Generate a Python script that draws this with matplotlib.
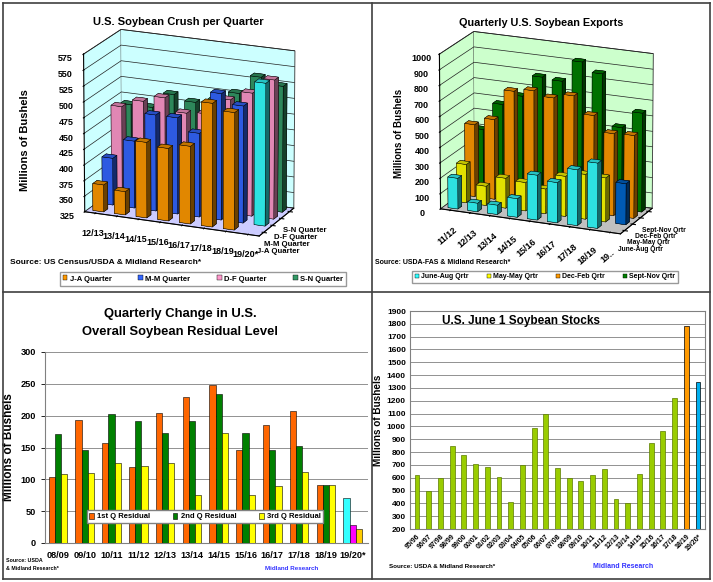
import numpy as np
import matplotlib
matplotlib.use("Agg")
import matplotlib.pyplot as plt
from matplotlib.patches import Patch
from matplotlib.lines import Line2D

plt.rcParams['font.family'] = ['Liberation Sans', 'DejaVu Sans']
plt.rcParams['font.weight'] = 'bold'

# ---------------- data ----------------
crush_years = ["12/13", "13/14", "14/15", "15/16", "16/17", "17/18", "18/19", "19/20*"]
crush_series = ["J-A Quarter", "M-M Quarter", "D-F Quarter", "S-N Quarter"]
crush_ja = [368, 362, 445, 440, 448, 520, 510, np.nan]
crush_mm = [400, 432, 478, 478, 458, 525, 510, 550]
crush_df = [472, 485, 495, 475, 478, 505, 520, 545]
crush_sn = [465, 465, 490, 482, 488, 505, 535, 525]
crush_ticks = [325, 350, 375, 400, 425, 450, 475, 500, 525, 550, 575]

exp_years = ["11/12", "12/13", "13/14", "14/15", "15/16", "16/17", "17/18", "18/19", "19.."]
exp_series = ["June-Aug Qrtr", "May-May Qrtr", "Dec-Feb Qrtr", "Sept-Nov Qrtr"]
exp_ja = [200, 55, 60, 120, 290, 260, 360, 420, np.nan]
exp_mm = [250, 125, 195, 185, 160, 260, 290, 285, 265]
exp_df = [470, 520, 720, 740, 710, 740, 630, 530, 535]
exp_sn = [400, 580, 650, 790, 780, 920, 860, 530, 640]
exp_ticks = list(range(0, 1001, 100))

res_years = ["08/09", "09/10", "10/11", "11/12", "12/13", "13/14", "14/15",
             "15/16", "16/17", "17/18", "18/19", "19/20*"]
res_q1 = [103, 193, 157, 119, 204, 229, 248, 146, 186, 207, 91, 71]
res_q2 = [171, 146, 202, 191, 173, 192, 234, 173, 146, 152, 91, 28]
res_q3 = [108, 110, 125, 121, 126, 75, 173, 75, 90, 111, 91, 22]
res_labels = ["1st Q Residual", "2nd Q Residual", "3rd Q Residual"]

stk_years = ["95/96", "96/97", "97/98", "98/99", "99/00", "00/01", "01/02", "02/03",
             "03/04", "04/05", "05/06", "06/07", "07/08", "08/09", "09/10", "10/11",
             "11/12", "12/13", "13/14", "14/15", "15/16", "16/17", "17/18", "18/19", "19/20*"]
stk_vals = [620, 500, 600, 850, 775, 708, 685, 605, 410, 700, 990, 1095, 675, 596,
            571, 619, 667, 435, 405, 627, 870, 966, 1222, 1783, 1350]

W, H = 713, 582
fig = plt.figure(figsize=(W / 100, H / 100), dpi=100)


def fx(p):
    return p / W


def fy(p):
    return 1 - p / H


def ax_rect(l, t, r, b):
    return [fx(l), fy(b), fx(r) - fx(l), fy(t) - fy(b)]


# frame lines
for (x0, y0, x1, y1) in [(3, 3, 710, 3), (3, 579, 710, 579), (3, 3, 3, 579), (710, 3, 710, 579),
                         (372, 3, 372, 579), (3, 292, 710, 292)]:
    fig.add_artist(Line2D([fx(x0), fx(x1)], [fy(y0), fy(y1)], color='#404040', lw=1.2,
                          transform=fig.transFigure))


def bars3d(ax, rows, colors, zmin, special=None):
    xs, ys, dz, cols = [], [], [], []
    for i, (vals, c) in enumerate(zip(rows, colors)):
        for j, v in enumerate(vals):
            if np.isnan(v):
                continue
            xs.append(j + 0.25)
            ys.append(i + 0.3)
            dz.append(v - zmin)
            cc = c
            if special and (i, j) in special:
                cc = special[(i, j)]
            cols.append(cc)
    n = len(xs)
    ax.bar3d(np.array(xs), np.array(ys), np.full(n, zmin), np.full(n, 0.5), np.full(n, 0.45),
             np.array(dz), color=cols, shade=True, edgecolor='black', linewidth=0.3)


def style3d(ax, wall, floor, zt, xlabels, ylabels, ncat, zmin, zmax, zasp, yfs):
    ax.set_proj_type('persp', focal_length=3.5)
    ax.view_init(elev=18, azim=-67)
    ax.set_box_aspect((ncat, 3.9, zasp), zoom=1.04)
    ax.set_xlim(0, ncat)
    ax.set_ylim(0, 4)
    ax.set_zlim(zmin, zmax)
    ax.xaxis.set_pane_color(wall)
    ax.yaxis.set_pane_color(wall)
    ax.zaxis.set_pane_color(floor)
    for a in (ax.xaxis, ax.yaxis, ax.zaxis):
        a.pane.set_edgecolor('#303030')
        a.pane.set_linewidth(0.6)
    ax.xaxis._axinfo['grid'].update(color=(0, 0, 0, 0))
    ax.yaxis._axinfo['grid'].update(color=(0, 0, 0, 0))
    ax.zaxis._axinfo['grid'].update(color='#202020', linewidth=0.5)
    ax.set_zticks(zt)
    ax.set_zticklabels([str(t) for t in zt], fontsize=6.5, fontweight='bold')
    ax.zaxis.set_ticks_position('lower')
    ax.set_xticks(np.arange(ncat) + 0.5)
    ax.set_xticklabels(xlabels, fontsize=6.5, fontweight='bold')
    ax.set_yticks(np.arange(4) + 0.5)
    ax.set_yticklabels(ylabels, fontsize=yfs, fontweight='bold')
    ax.tick_params(axis='both', pad=0)
    ax.grid(True)


# ---------------- top-left: crush ----------------
ax1 = fig.add_axes(ax_rect(36, 10, 336, 260), projection='3d')
ax1.patch.set_alpha(0)
bars3d(ax1, [crush_ja, crush_mm, crush_df, crush_sn],
       ['#FF9900', '#3366FF', '#FF99CC', '#339966'], 325, special={(1, 7): '#33FFFF'})
style3d(ax1, '#CCFFFF', '#CCCCFF', crush_ticks, crush_years, crush_series, 8, 325, 575,
        7.0, 5.6)
fig.text(fx(178), fy(22), "U.S. Soybean Crush per Quarter", ha='center', va='center',
         fontsize=8, fontweight='bold')
fig.text(fx(25), fy(140), "Millions of Bushels", rotation=90, ha='center', va='center',
         fontsize=8, fontweight='bold')
fig.text(fx(10), fy(263), "Source: US Census/USDA & Midland Research*", ha='left', va='center',
         fontsize=6, fontweight='bold')
fig.legend([Patch(facecolor=c, edgecolor='black', lw=0.3) for c in
            ['#FF9900', '#3366FF', '#FF99CC', '#339966']], crush_series, ncol=4,
           loc='center', bbox_to_anchor=(fx(203), fy(279)), fontsize=5.5, frameon=True,
           fancybox=False, edgecolor='#808080', handlelength=0.6, handleheight=0.6,
           columnspacing=3.5, borderpad=0.4, handletextpad=0.3)

# ---------------- top-right: exports ----------------
ax2 = fig.add_axes(ax_rect(398, 10, 688, 260), projection='3d')
ax2.patch.set_alpha(0)
bars3d(ax2, [exp_ja, exp_mm, exp_df, exp_sn],
       ['#33FFFF', '#FFFF00', '#FF9900', '#008000'], 0, special={(1, 8): '#0066CC'})
style3d(ax2, '#CCFFCC', '#C0C0C0', exp_ticks, exp_years, exp_series, 9, 0, 1000, 7.5, 4.8)
for lab in ax2.get_xticklabels():
    lab.set_rotation(40)
fig.text(fx(541), fy(23), "Quarterly U.S. Soybean Exports", ha='center', va='center',
         fontsize=7.8, fontweight='bold')
fig.text(fx(399), fy(133), "Millions of Bushels", rotation=90, ha='center', va='center',
         fontsize=7, fontweight='bold')
fig.text(fx(375), fy(263), "Source: USDA-FAS & Midland Research*", ha='left', va='center',
         fontsize=5, fontweight='bold')
fig.legend([Patch(facecolor=c, edgecolor='black', lw=0.3) for c in
            ['#33FFFF', '#FFFF00', '#FF9900', '#008000']], exp_series, ncol=4,
           loc='center', bbox_to_anchor=(fx(545), fy(277)), fontsize=5, frameon=True,
           fancybox=False, edgecolor='#808080', handlelength=0.6, handleheight=0.6,
           columnspacing=2.6, borderpad=0.4, handletextpad=0.3)

# ---------------- bottom-left: residual ----------------
ax3 = fig.add_axes(ax_rect(45, 352, 368, 543))
x = np.arange(len(res_years))
bw = 0.23
c1 = ['#FF6600'] * (len(x) - 1) + ['#33FFFF']
c2 = ['#008000'] * (len(x) - 1) + ['#FF00FF']
c3 = ['#FFFF00'] * (len(x) - 1) + ['#FFCC00']
ax3.bar(x - bw, res_q1, bw, color=c1, edgecolor='black', lw=0.4, label=res_labels[0], zorder=3)
ax3.bar(x, res_q2, bw, color=c2, edgecolor='black', lw=0.4, label=res_labels[1], zorder=3)
ax3.bar(x + bw, res_q3, bw, color=c3, edgecolor='black', lw=0.4, label=res_labels[2], zorder=3)
ax3.set_xlim(-0.48, 11.57)
ax3.set_ylim(0, 300)
ax3.set_yticks(range(0, 301, 50))
ax3.set_xticks(x)
ax3.set_xticklabels(res_years)
ax3.tick_params(axis='both', labelsize=6.6, length=3, width=0.6)
ax3.tick_params(axis='x', length=0, pad=6)
ax3.yaxis.grid(True, color='#808080', lw=0.6)
ax3.set_axisbelow(True)
for s in ['top', 'right']:
    ax3.spines[s].set_visible(False)
ax3.spines['left'].set_color('#808080')
ax3.spines['bottom'].set_color('#808080')
ax3.set_ylabel("Millions of Bushels", fontsize=8.5, fontweight='bold', labelpad=4)
hh = [Patch(facecolor=c, edgecolor='black', lw=0.4) for c in ['#FF6600', '#008000', '#FFFF00']]
ax3.legend(hh, res_labels, ncol=3, loc='center', bbox_to_anchor=(0.495, 0.139), fontsize=5.5,
           frameon=True, fancybox=False, edgecolor='#808080', framealpha=1,
           handlelength=0.6, handleheight=0.8, columnspacing=3.0, borderpad=0.35,
           handletextpad=0.4)
fig.text(fx(180), fy(314), "Quarterly Change in U.S.", ha='center', va='center',
         fontsize=9.4, fontweight='bold')
fig.text(fx(180), fy(332), "Overall Soybean Residual Level", ha='center', va='center',
         fontsize=9.4, fontweight='bold')
fig.text(fx(6), fy(560), "Source: USDA", ha='left', va='center',
         fontsize=3.8, fontweight='bold')
fig.text(fx(6), fy(568), "& Midland Research*", ha='left', va='center',
         fontsize=3.8, fontweight='bold')
fig.text(fx(292), fy(568), "Midland Research", ha='center', va='center',
         fontsize=4.5, fontweight='bold', color='#3333FF')

# ---------------- bottom-right: stocks ----------------
ax4 = fig.add_axes(ax_rect(410, 311, 705, 529))
xs = np.arange(len(stk_years))
sc = ['#99CC00'] * (len(xs) - 2) + ['#FF9900', '#00B0F0']
se = ['#5A7A00'] * (len(xs) - 2) + ['black', 'black']
ax4.bar(xs, np.array(stk_vals) - 200, 0.42, bottom=200, color=sc, edgecolor=se, lw=0.5, zorder=3)
ax4.set_xlim(-0.6, len(xs) - 0.4)
ax4.set_ylim(200, 1900)
ax4.set_yticks(range(200, 1901, 100))
ax4.set_xticks(xs)
ax4.set_xticklabels(stk_years, rotation=45, ha='right', rotation_mode='anchor')
ax4.tick_params(axis='y', labelsize=6, length=0, pad=3)
ax4.tick_params(axis='x', labelsize=5, length=0, pad=3)
ax4.yaxis.grid(True, color='#808080', lw=0.6)
ax4.set_axisbelow(True)
for s in ax4.spines.values():
    s.set_color('#808080')
ax4.set_ylabel("Millions of Bushels", fontsize=7.2, fontweight='bold', labelpad=3)
ax4.text(0.11, 0.955, "U.S. June 1 Soybean Stocks", transform=ax4.transAxes, ha='left',
         va='center', fontsize=8.5, fontweight='bold')
fig.text(fx(389), fy(567), "Source: USDA & Midland Research*", ha='left', va='center',
         fontsize=4.5, fontweight='bold')
fig.text(fx(623), fy(567), "Midland Research", ha='center', va='center',
         fontsize=5, fontweight='bold', color='#3333FF')

fig.savefig("out.png", dpi=100)
